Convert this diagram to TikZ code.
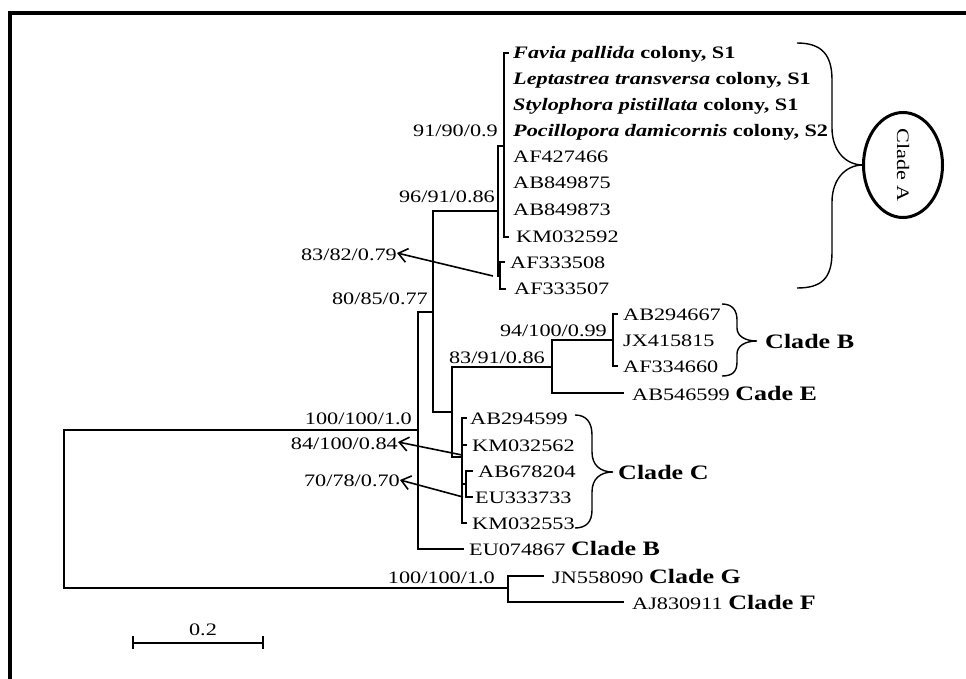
\documentclass[tikz,border=0pt]{standalone}
\usepackage{fontspec}
\setmainfont{Liberation Serif}[FakeStretch=1.27]
\usetikzlibrary{arrows.meta}
\tikzset{
  br/.style={line width=1.3pt, line cap=rect},
  lab/.style={inner sep=0pt, font=\fontsize{17.5}{20}\selectfont},
  cl/.style={inner sep=0pt, font=\fontsize{20.5}{24}\selectfont\bfseries},
  brace/.style={line width=1.4pt},
  pointer/.style={line width=1.6pt, -{Straight Barb[length=9pt,width=14pt,line width=1.6pt]}},
}
\begin{document}
\begin{tikzpicture}[x=1pt,y=-1pt]
\useasboundingbox (0,0) rectangle (966,679);
\fill[white] (0,0) rectangle (966,679);
% frame (top and left)
\draw[line width=4pt] (9.5,679) -- (9.5,13.5) -- (966,13.5);

% internal nodes
\coordinate (nA) at (418,430);
\coordinate (nFG) at (508,588);
\coordinate (nB) at (433,312);
\coordinate (nC) at (498,211);
\coordinate (nD) at (504,146);
\coordinate (nE) at (500,276);
\coordinate (nF) at (452,412);
\coordinate (nG) at (552,367);
\coordinate (nH) at (613,340);
\coordinate (nI) at (462,457);
\coordinate (nJ) at (466,484);

% root
\draw[br] (nA) -| (64,588) -- (nFG);
% nA
\draw[br] (418,312) -- (418,549) -- (463,549);
\draw[br] (418,312) -- (nB);
% nB
\draw[br] (433,211) -- (433,412) -- (nF);
\draw[br] (433,211) -- (nC);
% nC
\draw[br] (498,146) -- (498,276) -- (nE);
\draw[br] (498,146) -- (nD);
% nD
\draw[br] (508,53) -- (504,53) -- (504,237) -- (508,237);
% nE
\draw[br] (504,262) -- (500,262) -- (500,289) -- (505,289);
% nF
\draw[br] (452,367) -- (452,457) -- (nI);
\draw[br] (452,367) -- (nG);
% nG
\draw[br] (552,340) -- (552,393) -- (623,393);
\draw[br] (552,340) -- (nH);
% nH
\draw[br] (617,314) -- (613,314) -- (613,366) -- (617,366);
% nI
\draw[br] (466,418) -- (462,418) -- (462,523) -- (466,523);
\draw[br] (462,445) -- (466,445);
\draw[br] (462,484) -- (nJ);
\draw[br] (472,471) -- (466,471) -- (466,497) -- (472,497);
% nFG
\draw[br] (543,576) -- (508,576) -- (508,602) -- (623,602);

% scale bar
\draw[br] (133,643) -- (263,643);
\draw[br] (133,637) -- (133,648);
\draw[br] (263,637) -- (263,648);
\node[lab] (scale) at (203,630) {0.2};

% support values
\node[lab, anchor=base east] (s1) at (498,137) {91/90/0.9};
\node[lab, anchor=base east] (s2) at (495,203) {96/91/0.86};
\node[lab, anchor=base east] (s3) at (397,260) {83/82/0.79};
\node[lab, anchor=base east] (s4) at (428,304) {80/85/0.77};
\node[lab, anchor=base east] (s5) at (607,336) {94/100/0.99};
\node[lab, anchor=base east] (s6) at (545,363) {83/91/0.86};
\node[lab, anchor=base east] (s7) at (412,424) {100/100/1.0};
\node[lab, anchor=base east] (s8) at (398,449) {84/100/0.84};
\node[lab, anchor=base east] (s9) at (400,486) {70/78/0.70};
\node[lab, anchor=base east] (s10) at (495,583) {100/100/1.0};

% pointer arrows
\coordinate (p1) at (493,276);
\coordinate (p2) at (462,455);
\coordinate (p3) at (463,497);
\draw[pointer] (p1) -- (s3.east |- 0,253);
\draw[pointer] (p2) -- (s8.east |- 0,442);
\draw[pointer] (p3) -- (s9.east |- 0,480);

% tip labels clade A
\node[lab, anchor=base west] (t1) at (513,59) {\textbf{\textit{Favia pallida} colony, S1}};
\node[lab, anchor=base west] (t2) at (513,85) {\textbf{\textit{Leptastrea transversa} colony, S1}};
\node[lab, anchor=base west] (t3) at (513,111) {\textbf{\textit{Stylophora pistillata} colony, S1}};
\node[lab, anchor=base west] (t4) at (513,137) {\textbf{\textit{Pocillopora damicornis} colony, S2}};
\node[lab, anchor=base west] (t5) at (513,163) {AF427466};
\node[lab, anchor=base west] (t6) at (513,189) {AB849875};
\node[lab, anchor=base west] (t7) at (513,215) {AB849873};
\node[lab, anchor=base west] (t8) at (516,242) {KM032592};
\node[lab, anchor=base west] (t9) at (510,268) {AF333508};
\node[lab, anchor=base west] (t10) at (514,294) {AF333507};
% clade B
\node[lab, anchor=base west] (t11) at (623,320) {AB294667};
\node[lab, anchor=base west] (t12) at (623,346) {JX415815};
\node[lab, anchor=base west] (t13) at (623,372) {AF334660};
\node[lab, anchor=base west] (t14) at (632,400) {AB546599 {\fontsize{20.5}{24}\selectfont\bfseries Cade E}};
% clade C
\node[lab, anchor=base west] (t15) at (470,424) {AB294599};
\node[lab, anchor=base west] (t16) at (472,451) {KM032562};
\node[lab, anchor=base west] (t17) at (478,477) {AB678204};
\node[lab, anchor=base west] (t18) at (475,503) {EU333733};
\node[lab, anchor=base west] (t19) at (472,529) {KM032553};
\node[lab, anchor=base west] (t20) at (469,555) {EU074867 {\fontsize{20.5}{24}\selectfont\bfseries Clade B}};
\node[lab, anchor=base west] (t21) at (552,583) {JN558090 {\fontsize{20.5}{24}\selectfont\bfseries Clade G}};
\node[lab, anchor=base west] (t22) at (632,609) {AJ830911 {\fontsize{20.5}{24}\selectfont\bfseries Clade F}};

% braces
\draw[brace] (797,43) .. controls (822,43) and (832,55) .. (832,80) -- (832,128)
  .. controls (832,150) and (845,165) .. (863,165)
  .. controls (845,165) and (832,180) .. (832,202) -- (832,252)
  .. controls (832,278) and (822,288) .. (797,288);
\draw[brace] (722,304) .. controls (732,304) and (737,310) .. (737,320) -- (737,328)
  .. controls (737,336) and (745,341) .. (757,341)
  .. controls (745,341) and (737,346) .. (737,354) -- (737,362)
  .. controls (737,372) and (732,376) .. (722,376);
\draw[brace] (575,415) .. controls (586,415) and (592,422) .. (592,435) -- (592,452)
  .. controls (592,465) and (600,472) .. (613,472)
  .. controls (600,472) and (592,479) .. (592,492) -- (592,510)
  .. controls (592,522) and (586,528) .. (575,528);

% clade names
\draw[line width=3pt] (903,165) ellipse [x radius=39.5, y radius=52.5];
\node[lab, rotate=-90] (cA) at (903,165) {Clade A};
\node[cl, anchor=west] (cB) at (765,341) {Clade B};
\node[cl, anchor=west] (cC) at (618,472) {Clade C};
\end{tikzpicture}
\end{document}
